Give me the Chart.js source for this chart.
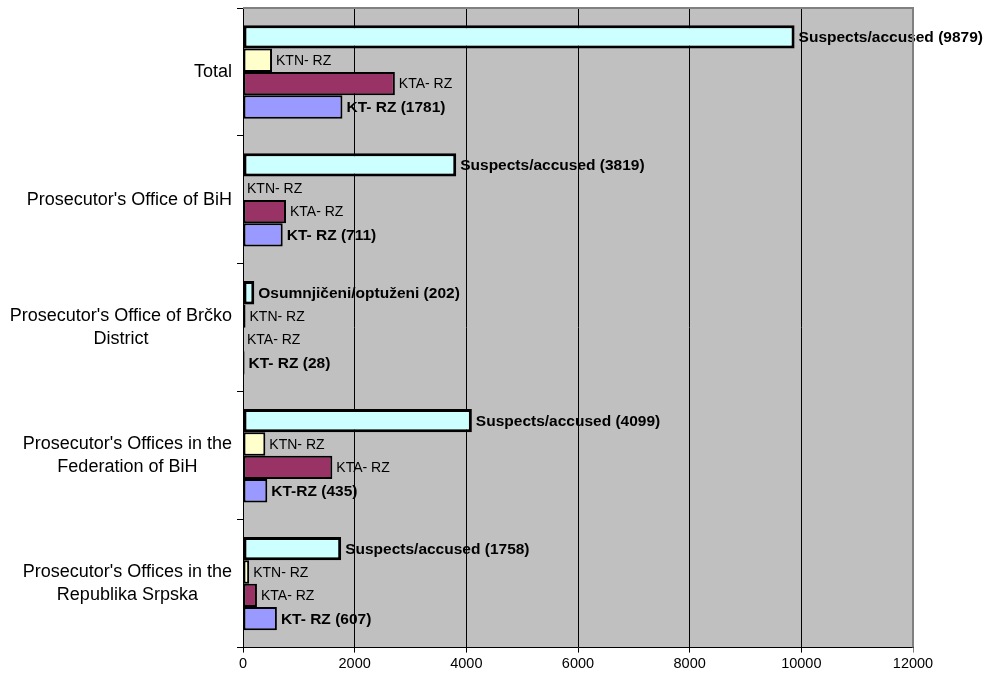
<!DOCTYPE html>
<html>
<head>
<meta charset="utf-8">
<script src="https://cdn.jsdelivr.net/npm/chart.js@4"></script>
<style>
html,body{margin:0;padding:0;background:#fff;}
#wrap{width:1007px;height:680px;}
</style>
</head>
<body>
<div id="wrap"><canvas id="c" width="1007" height="680"></canvas></div>
<script>
const categories = [
  ["Total"],
  ["Prosecutor's Office of BiH"],
  ["Prosecutor's Office of Brčko", "District"],
  ["Prosecutor's Offices in the", "Federation of BiH"],
  ["Prosecutor's Offices in the", "Republika Srpska"]
];
const suspects = [9879, 3819, 202, 4099, 1758];
const ktn = [520, 0, 45, 400, 110];
const kta = [2720, 770, 0, 1600, 250];
const kt = [1781, 711, 28, 435, 607];

const suspectsLabels = ["Suspects/accused (9879)", "Suspects/accused (3819)", "Osumnjičeni/optuženi (202)", "Suspects/accused (4099)", "Suspects/accused (1758)"];
const ktnLabels = ["KTN- RZ", "KTN- RZ", "KTN- RZ", "KTN- RZ", "KTN- RZ"];
const ktaLabels = ["KTA- RZ", "KTA- RZ", "KTA- RZ", "KTA- RZ", "KTA- RZ"];
const ktLabels = ["KT- RZ (1781)", "KT- RZ (711)", "KT- RZ (28)", "KT-RZ (435)", "KT- RZ (607)"];
const xTicks = [0, 2000, 4000, 6000, 8000, 10000, 12000];

const FONT = "'Liberation Sans', Arial, sans-serif";

const bgPlugin = {
  id: 'bg',
  beforeDraw(chart) {
    const {ctx, chartArea: a} = chart;
    ctx.save();
    ctx.fillStyle = '#C0C0C0';
    ctx.fillRect(a.left, a.top, a.right - a.left, a.bottom - a.top);
    ctx.restore();
  },
  afterDraw(chart) {
    const {ctx, chartArea: a} = chart;
    ctx.save();
    ctx.strokeStyle = '#808080';
    ctx.lineWidth = 2;
    ctx.beginPath();
    ctx.moveTo(a.left, a.top);
    ctx.lineTo(a.right, a.top);
    ctx.lineTo(a.right, a.bottom);
    ctx.stroke();
    ctx.restore();
  }
};

const barLabelPlugin = {
  id: 'barLabels',
  afterDatasetsDraw(chart) {
    const ctx = chart.ctx;
    ctx.save();
    ctx.textBaseline = 'middle';
    ctx.textAlign = 'left';
    ctx.fillStyle = '#000';
    chart.data.datasets.forEach((ds, di) => {
      const meta = chart.getDatasetMeta(di);
      meta.data.forEach((el, i) => {
        ctx.font = (ds.labelBold ? 'bold 15.5px ' : '14px ') + FONT;
        ctx.fillText(ds.valueLabels[i], el.x + 4, el.y + 1);
      });
    });
    ctx.restore();
  }
};

const catLabelPlugin = {
  id: 'catLabels',
  afterDraw(chart) {
    const ctx = chart.ctx;
    const y = chart.scales.y;
    ctx.save();
    ctx.font = '18px ' + FONT;
    ctx.fillStyle = '#000';
    ctx.textBaseline = 'middle';
    ctx.textAlign = 'center';
    const right = y.right - 11;
    const lh = 23;
    categories.forEach((lines, i) => {
      const cy = y.getPixelForValue(i);
      const w = Math.max(...lines.map(l => ctx.measureText(l).width));
      const cx = right - w / 2;
      const top = cy - (lines.length - 1) * lh / 2;
      lines.forEach((l, j) => ctx.fillText(l, cx, top + j * lh));
    });
    ctx.restore();
  }
};

new Chart(document.getElementById('c'), {
  type: 'bar',
  data: {
    labels: categories.map(c => c.join(' ')),
    datasets: [
      {data: suspects, valueLabels: suspectsLabels, labelBold: true, backgroundColor: '#CCFFFF', borderColor: '#000', borderWidth: 3, borderSkipped: false},
      {data: ktn, valueLabels: ktnLabels, labelBold: false, backgroundColor: '#FFFFCC', borderColor: '#000', borderWidth: 2, borderSkipped: false},
      {data: kta, valueLabels: ktaLabels, labelBold: false, backgroundColor: '#993366', borderColor: '#000', borderWidth: 2, borderSkipped: false},
      {data: kt, valueLabels: ktLabels, labelBold: true, backgroundColor: '#9999FF', borderColor: '#000', borderWidth: 2, borderSkipped: false}
    ]
  },
  options: {
    indexAxis: 'y',
    responsive: false,
    animation: false,
    categoryPercentage: 0.73,
    barPercentage: 1.0,
    layout: {padding: {top: 8, right: 94, bottom: 4, left: 0}},
    plugins: {legend: {display: false}, tooltip: {enabled: false}},
    scales: {
      x: {
        min: 0, max: 12000,
        afterBuildTicks(scale) { scale.ticks = xTicks.map(v => ({value: v})); },
        ticks: {color: '#000', font: {size: 14.5, family: FONT}, padding: 3, callback: (v) => String(v)},
        grid: {
          color: (c) => (c.tick && c.tick.value === 12000) ? '#808080' : '#000',
          lineWidth: 1,
          tickLength: 5,
          drawTicks: true
        },
        border: {display: true, color: '#000', width: 1}
      },
      y: {
        ticks: {display: false},
        afterFit(scale) { scale.width = 243; },
        grid: {offset: true, drawOnChartArea: false, drawTicks: true, tickLength: 6, color: '#000'},
        border: {display: true, color: '#000', width: 1}
      }
    }
  },
  plugins: [bgPlugin, barLabelPlugin, catLabelPlugin]
});
</script>
</body>
</html>
